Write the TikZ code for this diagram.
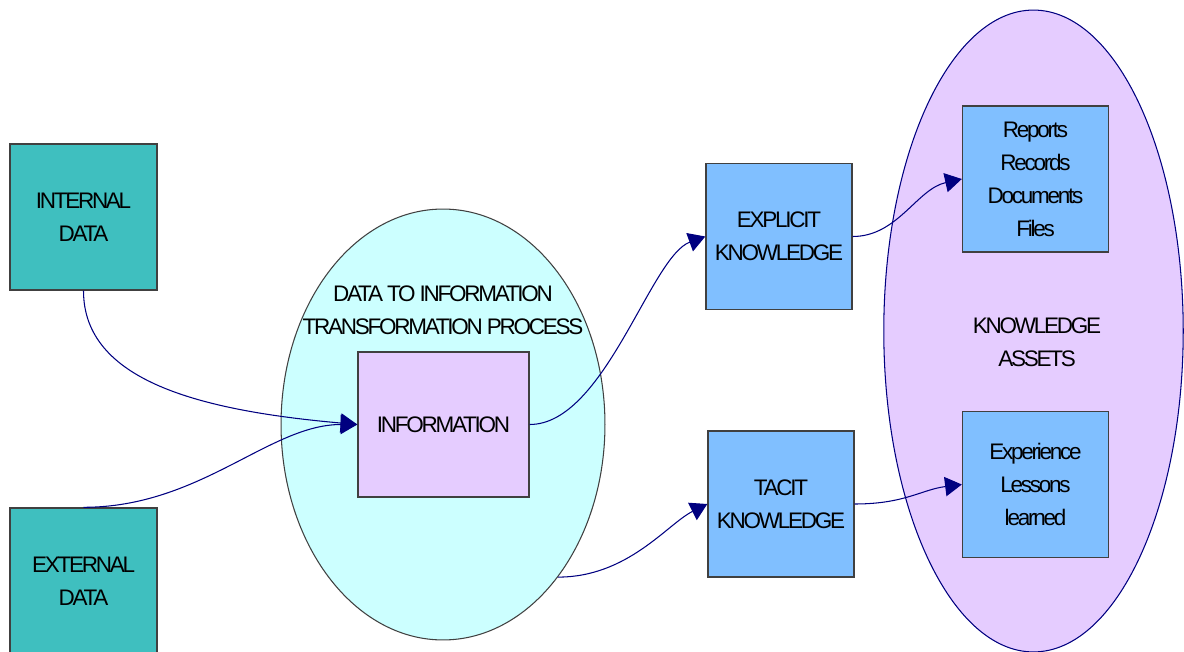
\documentclass[tikz,border=0pt]{standalone}
\usepackage{fontspec}
\setmainfont{Liberation Sans}[LetterSpace=-10]
\usetikzlibrary{shapes.geometric}
\usetikzlibrary{arrows.meta}

\definecolor{databoxfill}{RGB}{63,191,191}
\definecolor{knowboxfill}{RGB}{128,191,255}
\definecolor{lavender}{RGB}{229,204,255}
\definecolor{paleaqua}{RGB}{204,255,255}
\definecolor{flowblue}{RGB}{0,0,128}
\definecolor{boxline}{RGB}{64,64,64}

\begin{document}
\begin{tikzpicture}[
    x=0.02cm, y=-0.02cm,
    every node/.style={font=\fontsize{12.8}{18.8}\selectfont, align=center}
  ]

% Frame of the page: 1184 x 652 units, y counted downwards
\useasboundingbox (0,0) rectangle (1184,652);
\clip (0,0) rectangle (1184,652);

% Styles for the boxes, the two large ellipses and the curved arrows
\tikzset{
  plainbox/.style={draw=boxline, line width=0.8pt, inner sep=0pt,
    minimum width=2.92cm, minimum height=2.92cm},
  databox/.style={plainbox, fill=databoxfill, minimum width=2.94cm},
  infobox/.style={plainbox, fill=lavender, minimum width=3.42cm, minimum height=2.9cm},
  knowbox/.style={plainbox, fill=knowboxfill},
  bigellipse/.style={ellipse, inner sep=0pt, line width=0.6pt},
  flow/.style={draw=flowblue, line width=0.6pt, -{Triangle[length=9.5pt,width=11pt]}}
}

% The two ellipses go first so that everything else sits on top of them
\node[bigellipse, draw=boxline, fill=paleaqua, minimum width=6.48cm, minimum height=8.62cm]
  (transform) at (443,424.5) {};
\node[bigellipse, draw=flowblue, fill=lavender, minimum width=5.99cm, minimum height=12.84cm]
  (assets) at (1033.5,331) {};

% Titles printed inside the ellipses
\node (transformtitle) at (443,310) {DATA TO INFORMATION\\TRANSFORMATION PROCESS};
\node (assetstitle) at (1037,342) {KNOWLEDGE\\ASSETS};

% Data sources on the left (the lower one runs off the page)
\node[databox] (internal) at (83.5,217) {INTERNAL\\DATA};
\node[databox] (external) at (83.5,581) {EXTERNAL\\DATA};

% Information box in the middle of the aqua ellipse
\node[infobox] (information) at (443.5,424.5) {INFORMATION};

% The two kinds of knowledge
\node[knowbox] (explicit) at (779,236.5) {EXPLICIT\\KNOWLEDGE};
\node[knowbox] (tacit) at (781,504) {TACIT\\KNOWLEDGE};

% Knowledge assets
\node[knowbox] (records) at (1035.5,179) {Reports\\Records\\Documents\\Files};
\node[knowbox] (lessons) at (1035.5,484.5) {Experience\\Lessons\\learned};

% Curved arrows from left to right
\draw[flow] (internal.south) .. controls +(0,90) and +(-158,-14) .. (information.west);
\draw[flow] (external.north) .. controls +(117,0) and +(-88,0) .. (information.west);
\draw[flow] (information.east) .. controls +(75,0) and +(-55,20) .. (explicit.west);
\draw[flow] (transform.-53) .. controls +(70,0) and +(-40,20) .. (tacit.west);
\draw[flow] (explicit.east) .. controls +(45,0) and +(-45,10) .. (records.west);
\draw[flow] (tacit.east) .. controls +(50,0) and +(-40,5) .. (lessons.west);

\end{tikzpicture}
\end{document}
